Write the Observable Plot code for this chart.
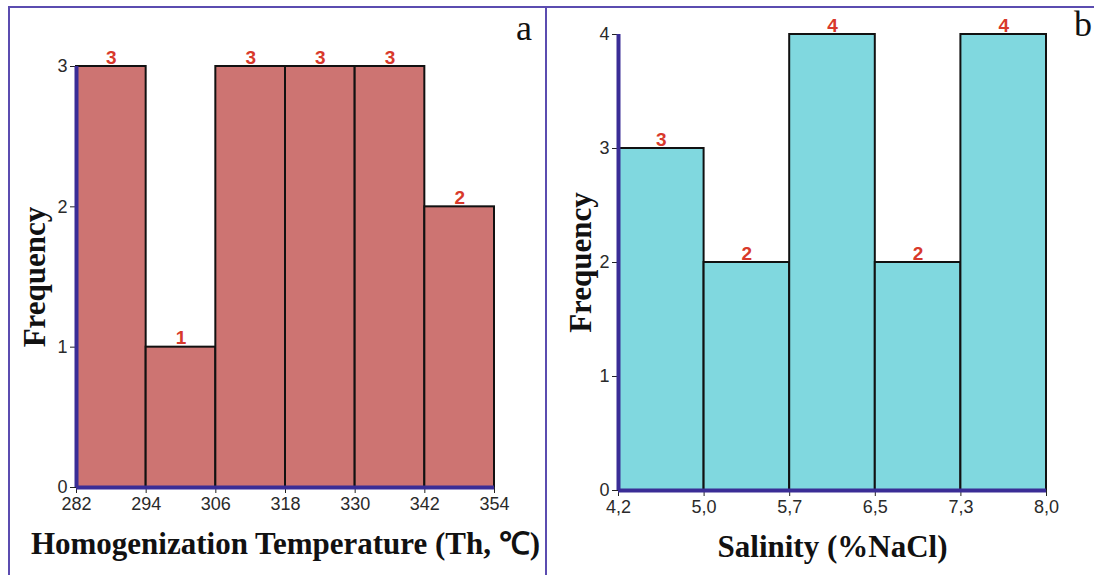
<!DOCTYPE html>
<html>
<head>
<meta charset="utf-8">
<script src="https://cdn.jsdelivr.net/npm/d3@7"></script>
<script src="https://cdn.jsdelivr.net/npm/@observablehq/plot@0.6"></script>
<style>
  html, body { margin: 0; padding: 0; background: #ffffff; }
  #wrap { position: relative; width: 1094px; height: 575px; background: #fff; overflow: hidden; }
  .panel { position: absolute; top: 0; }
  .line { position: absolute; background: #5b4cb0; }
  .tag { position: absolute; font-family: "Liberation Serif", "Times New Roman", serif; font-size: 36px; color: #111; line-height: 1; }
  #wrap svg g[aria-label="x-axis tick label"],
  #wrap svg g[aria-label="y-axis tick label"] { font-size: 18px !important; fill: #2a2a2a; }
</style>
</head>
<body>
<div id="wrap">
  <div class="line" style="left:9px; top:6px; width:1085px; height:2px;"></div>
  <div class="line" style="left:8px; top:6px; width:2px; height:569px;"></div>
  <div class="line" style="left:545px; top:6px; width:2px; height:569px;"></div>
  <div id="pa" class="panel" style="left:0px;"></div>
  <div id="pb" class="panel" style="left:547px;"></div>
  <div class="tag" style="left:516px; top:10px;">a</div>
  <div class="tag" style="left:1074px; top:6px;">b</div>
</div>
<script>
// ---- data ----
const tempEdges = [282, 294, 306, 318, 330, 342, 354];
const tempCounts = [3, 1, 3, 3, 3, 2];
const salEdges = [4.2, 5.0, 5.7, 6.5, 7.3, 8.0];
const salCounts = [3, 2, 4, 2, 4];
const salTickLabels = ["4,2", "5,0", "5,7", "6,5", "7,3", "8,0"];
const freqTicksA = [0, 1, 2, 3];
const freqTicksB = [0, 1, 2, 3, 4];
const xTitleA = "Homogenization Temperature (Th, \u2103)";
const xTitleB = "Salinity (%NaCl)";
const yTitle = "Frequency";

const tempBins = tempCounts.map((n, i) => ({x1: tempEdges[i], x2: tempEdges[i + 1], n}));
const salBins = salCounts.map((n, i) => ({x1: salEdges[i], x2: salEdges[i + 1], n}));

const AXIS = "#3a2d96";
const RED = "#d8392b";
const SANS = "'Liberation Sans', Arial, sans-serif";
const SERIF = "'Liberation Serif', 'Times New Roman', serif";

function panel({bins, edges, yTicks, yMax, fill, width, mL, mR, mT, mB, xRange, tickFmt, xTitle, yDx}) {
  const x = {domain: [edges[0], edges[edges.length - 1]]};
  if (xRange) { x.domain = edges; x.range = xRange; }
  return Plot.plot({
    width, height: 575,
    marginLeft: mL, marginRight: mR, marginTop: mT, marginBottom: mB,
    style: {fontFamily: SANS, fontSize: "18px", color: "#222", background: "transparent", overflow: "visible"},
    x: {...x, type: "linear"},
    y: {domain: [0, yMax]},
    marks: [
      Plot.rectY(bins, {x1: "x1", x2: "x2", y: "n", fill, stroke: "#111", strokeWidth: 2, inset: 0}),
      Plot.axisX({ticks: edges, tickFormat: tickFmt, tickSize: 6, tickPadding: 4, stroke: "#222", label: null, fontSize: 18}),
      Plot.axisY({ticks: yTicks, tickFormat: d => String(d), tickSize: 6, tickPadding: 3, stroke: "#222", label: null, fontSize: 18}),
      Plot.ruleY([0], {stroke: AXIS, strokeWidth: 4}),
      Plot.ruleX([edges[0]], {stroke: AXIS, strokeWidth: 4}),
      Plot.text(bins, {x: d => (d.x1 + d.x2) / 2, y: "n", text: d => String(d.n), fill: RED, fontSize: 19, fontWeight: 600, lineAnchor: "bottom", dy: -3, fontFamily: SANS}),
      Plot.text([xTitle], {frameAnchor: "bottom", lineAnchor: "bottom", dy: 66, fontFamily: SERIF, fontWeight: "bold", fontSize: 31, fill: "#111"}),
      Plot.text([yTitle], {frameAnchor: "left", rotate: -90, lineAnchor: "middle", textAnchor: "middle", dx: yDx, fontFamily: SERIF, fontWeight: "bold", fontSize: 31, fill: "#111"})
    ]
  });
}

const wA = 546, mLA = 76, mRA = 52;
document.getElementById("pa").append(panel({
  bins: tempBins, edges: tempEdges, yTicks: freqTicksA, yMax: 3, fill: "#cd7472",
  width: wA, mL: mLA, mR: mRA, mT: 66, mB: 88, tickFmt: d => String(d), xTitle: xTitleA, yDx: -41
}));

const wB = 547, mLB = 71, mRB = 48;
const step = (wB - mLB - mRB) / (salEdges.length - 1);
const salRange = salEdges.map((_, i) => mLB + i * step);
document.getElementById("pb").append(panel({
  bins: salBins, edges: salEdges, yTicks: freqTicksB, yMax: 4, fill: "#80d8df",
  width: wB, mL: mLB, mR: mRB, mT: 34, mB: 85, xRange: salRange,
  tickFmt: d => salTickLabels[salEdges.indexOf(d)], xTitle: xTitleB, yDx: -37
}));
</script>
</body>
</html>
